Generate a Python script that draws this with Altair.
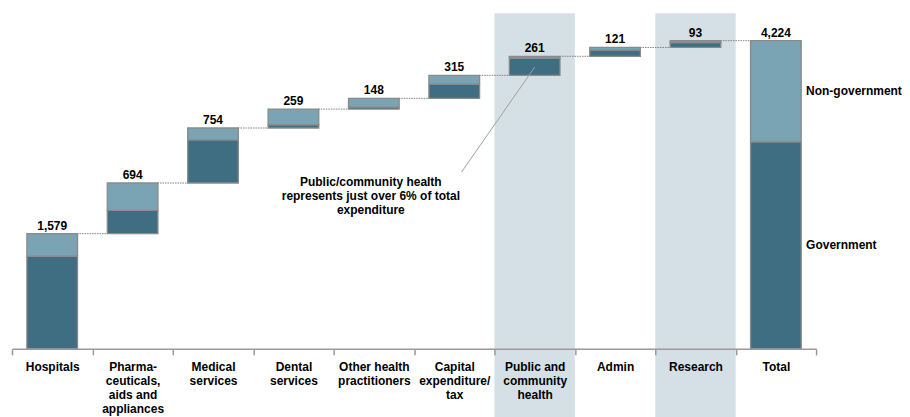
import altair as alt
import pandas as pd

# ---- data ----
categories = [
    "Hospitals",
    "Pharma-|ceuticals,|aids and|appliances",
    "Medical|services",
    "Dental|services",
    "Other health|practitioners",
    "Capital|expenditure/|tax",
    "Public and|community|health",
    "Admin",
    "Research",
    "Total",
]
government = [1270, 320, 590, 45, 28, 195, 235, 86, 68]
non_government = [309, 374, 164, 214, 120, 120, 26, 35, 25]
highlighted = ["Public and|community|health", "Research"]
callout_text = "Public/community health\nrepresents just over 6% of total\nexpenditure"

# ---- derived tables ----
seg_rows, label_rows, conn_rows = [], [], []
start = 0
steps = categories[:-1]
for i, cat in enumerate(steps):
    g, n = government[i], non_government[i]
    seg_rows.append({"cat": cat, "series": "Government", "y0": start, "y1": start + g})
    seg_rows.append({"cat": cat, "series": "Non-government", "y0": start + g, "y1": start + g + n})
    end = start + g + n
    label_rows.append({"cat": cat, "top": end, "text": f"{g + n:,}"})
    conn_rows.append({"cat": cat, "next": categories[i + 1], "level": end})
    start = end
gov_total, non_total = sum(government), sum(non_government)
seg_rows.append({"cat": "Total", "series": "Government", "y0": 0, "y1": gov_total})
seg_rows.append({"cat": "Total", "series": "Non-government", "y0": gov_total, "y1": gov_total + non_total})
label_rows.append({"cat": "Total", "top": gov_total + non_total, "text": f"{gov_total + non_total:,}"})

segs = pd.DataFrame(seg_rows)
labels = pd.DataFrame(label_rows)
conns = pd.DataFrame(conn_rows)
hl = pd.DataFrame({"cat": highlighted})
legend_df = pd.DataFrame({
    "cat": ["Total", "Total"],
    "name": ["Non-government", "Government"],
    "y": [gov_total + non_total / 2, gov_total / 2],
})
callout_df = pd.DataFrame({"cat": ["Other health|practitioners"], "y": [2230], "text": [callout_text]})
leader_df = pd.DataFrame({"cat": ["Public and|community|health"], "to": ["Capital|expenditure/|tax"],
                          "y": [3861], "y2": [2423]})

W, H = 805, 336
FONT = "Liberation Sans"
DARK, LIGHT, HL, STROKE = "#3f6d81", "#7aa3b4", "#d4e0e6", "#8a8a8a"

xscale = alt.Scale(domain=categories, paddingInner=0, paddingOuter=0)
yscale = alt.Scale(domain=[0, 4600])
xaxis = alt.Axis(
    title=None, tickBand="extent", labelAngle=0, labelFont=FONT, labelFontSize=12,
    labelFontWeight="bold", labelColor="black", labelExpr="split(datum.label, '|')",
    labelLineHeight=14, labelBaseline="top", labelPadding=7, labelLimit=0,
    domainColor="#9a9a9a", domainWidth=1.5, tickColor="#9a9a9a", tickSize=6, tickWidth=1.5,
    zindex=1,
)


def X(field="cat", **kw):
    return alt.X(f"{field}:N", scale=xscale, axis=xaxis, sort=categories, **kw)


highlight = alt.Chart(hl).mark_rect(color=HL).encode(
    x=X(), y=alt.value(0), y2=alt.value(H + 100)
)

connectors = alt.Chart(conns).mark_rule(color="#808080", strokeWidth=1, strokeDash=[1.5, 1]).encode(
    x=X(bandPosition=0.81),
    x2=alt.X2("next", bandPosition=0.19),
    y=alt.Y("level:Q", scale=yscale, axis=None),
)

bars = alt.Chart(segs).mark_bar(
    width=alt.RelativeBandSize(0.63), stroke=STROKE, strokeWidth=1.3
).encode(
    x=X(),
    y=alt.Y("y0:Q", scale=yscale, axis=None),
    y2="y1:Q",
    color=alt.Color("series:N", scale=alt.Scale(domain=["Government", "Non-government"],
                                                range=[DARK, LIGHT]), legend=None),
)

values = alt.Chart(labels).mark_text(
    font=FONT, fontSize=12, fontWeight="bold", color="black", baseline="alphabetic", dy=-4
).encode(x=X(), y=alt.Y("top:Q", scale=yscale, axis=None), text="text:N")

legend_text = alt.Chart(legend_df).mark_text(
    font=FONT, fontSize=12, fontWeight="bold", color="black", align="left", baseline="middle", dx=-10
).encode(x=X(bandPosition=1), y=alt.Y("y:Q", scale=yscale, axis=None), text="name:N")

leader = alt.Chart(leader_df).mark_rule(color="#a0a0a0", strokeWidth=1).encode(
    x=X(bandPosition=0.5), x2=alt.X2("to", bandPosition=0.59),
    y=alt.Y("y:Q", scale=yscale, axis=None), y2="y2:Q",
)

callout = alt.Chart(callout_df).mark_text(
    font=FONT, fontSize=12, fontWeight="bold", color="black", align="center",
    baseline="alphabetic", lineBreak="\n", lineHeight=14, dx=-3
).encode(x=X(), y=alt.Y("y:Q", scale=yscale, axis=None), text="text:N")

chart = alt.layer(highlight, connectors, bars, values, legend_text, leader, callout).properties(
    width=W, height=H, padding={"left": 3, "top": 5, "right": 0, "bottom": 0},
    background="white",
).configure_view(stroke=None)

chart.save("out.html", embed_options={"renderer": "svg", "actions": False})
